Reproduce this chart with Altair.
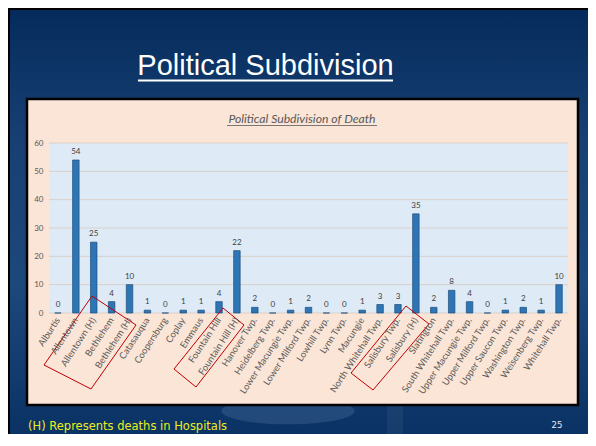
import altair as alt
import pandas as pd

# ---- data ----
categories = ["Alburtis", "Allentown", "Allentown (H)", "Bethlehem", "Bethlehem (H)",
              "Catasauqua", "Coopersburg", "Coplay", "Emmaus", "Fountain Hill",
              "Fountain Hill (H)", "Hanover Twp.", "Heidelberg Twp.", "Lower Macungie Twp.",
              "Lower Milford Twp.", "Lowhill Twp.", "Lynn Twp.", "Macungie",
              "North Whitehall Twp.", "Salisbury Twp.", "Salisbury (H)", "Slatington",
              "South Whitehall Twp.", "Upper Macungie Twp.", "Upper Milford Twp.",
              "Upper Saucon Twp.", "Washington Twp.", "Weisenberg Twp.", "Whitehall Twp."]
deaths = [0, 54, 25, 4, 10, 1, 0, 1, 1, 4, 22, 2, 0, 1, 2, 0, 0, 1, 3, 3, 35, 2, 8, 4, 0, 1, 2, 1, 10]
y_ticks = [0, 10, 20, 30, 40, 50, 60]

slide_title = "Political Subdivision"
chart_title = "Political Subdivision of Death"
footer_text = "(H) Represents deaths in Hospitals"
page_number = "25"

# red annotation boxes (corner offsets from the plot area's top-left)
annotation_boxes = {
    "a": [(-5, 222), (43, 153), (87, 182), (42, 246)],
    "b": [(125, 226), (174, 165), (195, 182), (147, 244)],
    "c": [(302, 230), (357, 163), (380, 181), (324, 247)],
}

# ---- layout ----
TOTAL_W, TOTAL_H = 580, 426
PL, PT = 41, 135
W, H = 519, 170
FONT = "Lato"

df = pd.DataFrame({"place": categories, "deaths": deaths})
grid_df = pd.DataFrame({"deaths": y_ticks})
box_rows = []
for name, pts in annotation_boxes.items():
    for i, (px, py) in enumerate(pts + [pts[0]]):
        box_rows.append({"box": name, "i": i, "px": px, "py": py})
box_df = pd.DataFrame(box_rows)
one = pd.DataFrame({"k": [0]})

x_axis = alt.Axis(labelAngle=303, labelFontSize=9.3, labelColor="#595959", labelFont=FONT,
                  ticks=False, domain=False, labelPadding=5, title=None, zindex=1,
                  labelAlign="right", labelBaseline="middle")
y_axis = alt.Axis(values=y_ticks, grid=False, ticks=False, domain=False, labelFontSize=8,
                  labelColor="#595959", labelFont=FONT, labelPadding=6, title=None, zindex=1)
y_scale = alt.Scale(domain=[0, 60], nice=False)
x_enc = alt.X("place:N", sort=categories, axis=x_axis,
              scale=alt.Scale(paddingInner=0.0, paddingOuter=0.0))
y_enc = alt.Y("deaths:Q", axis=y_axis, scale=y_scale)

gradient = alt.LinearGradient(
    gradient="linear",
    stops=[alt.GradientStop(offset=0, color="#042b5b"),
           alt.GradientStop(offset=0.3, color="#173f72"),
           alt.GradientStop(offset=0.65, color="#1d487c"),
           alt.GradientStop(offset=1, color="#0a3264")],
    x1=0, x2=0, y1=0, y2=1)

slide_bg = alt.Chart(one).mark_rect(fill=gradient).encode(
    x=alt.value(-PL), x2=alt.value(TOTAL_W - PL), y=alt.value(-PT), y2=alt.value(TOTAL_H - PT))
border_top = alt.Chart(one).mark_rule(color="#000000", strokeWidth=2).encode(
    x=alt.value(-PL), x2=alt.value(TOTAL_W - PL), y=alt.value(-PT + 1))
border_left = alt.Chart(one).mark_rule(color="#000000", strokeWidth=2).encode(
    x=alt.value(-PL + 1), y=alt.value(-PT), y2=alt.value(TOTAL_H - PT))
column_deco = alt.Chart(one).mark_rect(fill="#ffffff", opacity=0.05).encode(
    x=alt.value(338), x2=alt.value(354), y=alt.value(262), y2=alt.value(TOTAL_H - PT))
bowl_deco = alt.Chart(one).mark_point(
    shape="M -1 0 A 1 0.2 0 1 0 1 0 A 1 0.2 0 1 0 -1 0 Z", filled=True,
    color="#4d73a0", opacity=0.35, size=133 ** 2
).encode(x=alt.value(239), y=alt.value(268))

panel = alt.Chart(one).mark_rect(fill="#FBE5D6", stroke="#000000", strokeWidth=2.5).encode(
    x=alt.value(-22), x2=alt.value(529), y=alt.value(-44), y2=alt.value(262))
plot_bg = alt.Chart(one).mark_rect(fill="#DEEBF7").encode(
    x=alt.value(0), x2=alt.value(W), y=alt.value(0), y2=alt.value(H))

grid = alt.Chart(grid_df).mark_rule(color="#D9CFC9", strokeWidth=1).encode(y=y_enc)

bars = alt.Chart(df).mark_bar(size=6.5, color="#2E75B6", stroke="#1F4E79", strokeWidth=0.7).encode(
    x=x_enc, y=y_enc)
labels = alt.Chart(df).mark_text(fontSize=8, color="#404040", font=FONT, baseline="bottom",
                                 dy=-4).encode(x=x_enc, y=y_enc, text="deaths:Q")

boxes = alt.Chart(box_df).mark_line(color="#C00000", strokeWidth=1).encode(
    x=alt.X("px:Q", scale=None, axis=None),
    y=alt.Y("py:Q", scale=None, axis=None),
    detail="box:N", order="i:Q")

title_txt = alt.Chart(one).mark_text(text=slide_title, font="Liberation Sans", fontSize=29,
                                     color="#FFFFFF", align="center", baseline="alphabetic").encode(
    x=alt.value(216.5), y=alt.value(-68))
title_ul = alt.Chart(one).mark_rule(color="#FFFFFF", strokeWidth=2).encode(
    x=alt.value(89), x2=alt.value(344), y=alt.value(-62.5))
ctitle_txt = alt.Chart(one).mark_text(text=chart_title, font=FONT, fontSize=12.2, fontStyle="italic",
                                      color="#595959", align="center", baseline="alphabetic").encode(
    x=alt.value(253), y=alt.value(-20))
ctitle_ul = alt.Chart(one).mark_rule(color="#595959", strokeWidth=0.8).encode(
    x=alt.value(178), x2=alt.value(328), y=alt.value(-17.5))
footer = alt.Chart(one).mark_text(text=footer_text, font="DejaVu Sans", fontSize=11.5,
                                  color="#EDED1E", align="left", baseline="alphabetic").encode(
    x=alt.value(-21), y=alt.value(TOTAL_H - PT - 4))
pnum = alt.Chart(one).mark_text(text=page_number, font="DejaVu Sans", fontSize=8.5,
                                color="#E6ECF4", align="center", baseline="alphabetic").encode(
    x=alt.value(508), y=alt.value(TOTAL_H - PT - 6))

chart = alt.layer(
    slide_bg, border_top, border_left, column_deco, bowl_deco, panel, plot_bg, grid, bars, labels,
    boxes, title_txt, title_ul, ctitle_txt, ctitle_ul, footer, pnum
).properties(
    width=W, height=H,
    padding={"left": PL, "top": PT, "right": TOTAL_W - PL - W, "bottom": TOTAL_H - PT - H},
    autosize=alt.AutoSizeParams(type="none"),
    background="#ffffff",
).configure_view(stroke=None)

chart.save("out.html", embed_options={"renderer": "svg", "actions": False})
